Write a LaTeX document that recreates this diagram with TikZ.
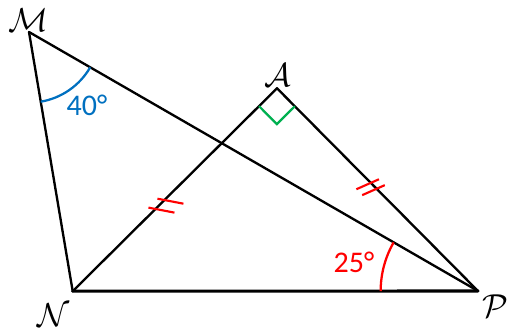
\documentclass[tikz,border=0pt]{standalone}
\usepackage{fontspec}
\setmainfont{Carlito}
\usepackage{xcolor}
\usetikzlibrary{calc,angles,positioning}
\definecolor{angblue}{RGB}{0,112,192}
\definecolor{angred}{RGB}{255,0,0}
\definecolor{anggreen}{RGB}{0,176,80}
\tikzset{
  trline/.style={line width=1.75pt, draw=black, line cap=round},
  baseline/.style={trline, line width=2.3pt},
  tickmark/.style={line width=1.6pt, draw=angred},
  ptlabel/.style={font=\fontsize{23}{27}\selectfont, inner sep=0pt},
  anglbl/.style={font=\fontsize{22.5}{26}\selectfont, inner sep=0pt},
}

\begin{document}
\begin{tikzpicture}[x=0.75pt, y=0.75pt]
  \useasboundingbox (0,0) rectangle (508,331);
  % vertices
  \coordinate (M) at (29,299);
  \coordinate (A) at (277,242.7);
  \coordinate (N) at (72.7,39.8);
  \coordinate (P) at (478,40);
  % sides
  \draw[trline] (M) -- (N);
  \draw[trline] (M) -- (P);
  \draw[trline] (N) -- (A);
  \draw[trline] (A) -- (P);
  \draw[baseline] (N) -- (P);
  % angles
  \pic[draw=angblue, line width=1.7pt, angle radius=53pt] {angle=N--M--P};
  \pic[draw=angred, line width=1.7pt, angle radius=73pt] {angle=M--P--N};
  \pic[draw=anggreen, line width=1.7pt, angle radius=19pt] {right angle=N--A--P};
  % equal sides
  \draw[tickmark] ($(N)!0.449!(A)+(-7,1.4)$) -- +(26,-5);
  \draw[tickmark] ($(N)!0.405!(A)+(-7,1.4)$) -- +(26,-5);
  \draw[tickmark] ($(A)!0.467!(P)+(-14.5,-6.3)$) -- +(22.6,10);
  \draw[tickmark] ($(A)!0.496!(P)+(-14.5,-6.3)$) -- +(22.6,10);
  % labels
  \node (lblM) [ptlabel] at (28,311) {$\mathcal{M}$};
  \node (lblA) [ptlabel] at (278,256) {$\mathcal{A}$};
  \node (lblN) [ptlabel] at (54,16) {$\mathcal{N}$};
  \node (lblP) [ptlabel] at (495,25) {$\mathcal{P}$};
  \node (lblM40) [anglbl, text=angblue] at (87,226) {40°};
  \node (lblP25) [anglbl, text=angred] at (354,68.5) {25°};
\end{tikzpicture}
\end{document}
